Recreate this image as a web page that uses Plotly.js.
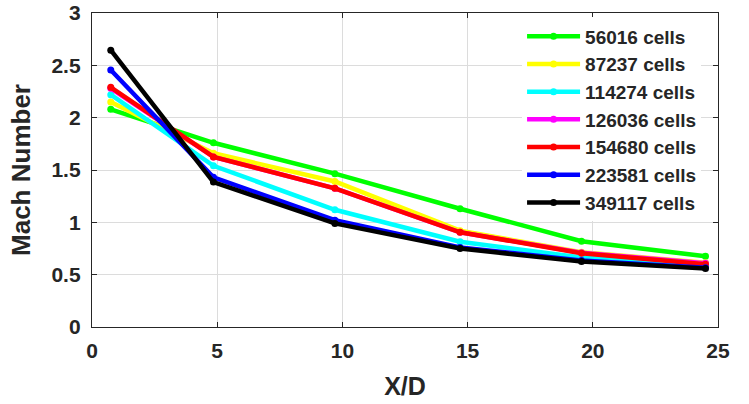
<!DOCTYPE html>
<html>
<head>
<meta charset="utf-8">
<script src="https://cdn.plot.ly/plotly-3.0.1.min.js"></script>
<style>html,body{margin:0;padding:0;background:#fff;}#chart{width:749px;height:404px;}</style>
</head>
<body>
<div id="chart"></div>
<script>
const xd = [0.75, 4.85, 9.7, 14.7, 19.55, 24.5];
const seriesNames = ["56016 cells", "87237 cells", "114274 cells", "126036 cells", "154680 cells", "223581 cells", "349117 cells"];
const seriesColors = ["#00ff00", "#ffff00", "#00ffff", "#ff00ff", "#ff0000", "#0000ff", "#000000"];
const mach56016  = [2.08, 1.76, 1.465, 1.13, 0.82, 0.675];
const mach87237  = [2.15, 1.66, 1.39, 0.92, 0.715, 0.615];
const mach114274 = [2.22, 1.54, 1.12, 0.815, 0.665, 0.585];
const mach126036 = [2.28, 1.625, 1.325, 0.905, 0.71, 0.61];
const mach154680 = [2.29, 1.625, 1.325, 0.905, 0.705, 0.6];
const mach223581 = [2.455, 1.43, 1.02, 0.76, 0.635, 0.565];
const mach349117 = [2.645, 1.385, 0.99, 0.75, 0.625, 0.56];
const seriesValues = [mach56016, mach87237, mach114274, mach126036, mach154680, mach223581, mach349117];
const xTicks = [0, 5, 10, 15, 20, 25];
const yTicks = [0, 0.5, 1, 1.5, 2, 2.5, 3];

const traces = seriesValues.map((v, i) => ({
  x: xd, y: v, name: seriesNames[i], type: 'scatter', mode: 'lines+markers',
  line: {color: seriesColors[i], width: 4.5},
  marker: {color: seriesColors[i], size: 7}
}));

const axisCommon = {
  showline: true, linecolor: '#262626', linewidth: 1.2, mirror: 'ticks',
  ticks: 'inside', ticklen: 5, tickcolor: '#262626',
  showgrid: true, gridcolor: '#dcdcdc', gridwidth: 1, zeroline: false,
  tickfont: {family: 'Liberation Sans, Arial, sans-serif', size: 21, color: '#262626', weight: 'bold'}
};

const layout = {
  width: 749, height: 404,
  margin: {l: 92, r: 31, t: 13, b: 77},
  paper_bgcolor: '#fff', plot_bgcolor: '#fff',
  font: {family: 'Liberation Sans, Arial, sans-serif', color: '#262626'},
  xaxis: Object.assign({}, axisCommon, {
    range: [0, 25], tickvals: xTicks, ticktext: xTicks.map(String), ticklabelstandoff: 5,
    title: {text: '<b>X/D</b>', font: {size: 25, color: '#262626'}, standoff: 16}
  }),
  yaxis: Object.assign({}, axisCommon, {
    range: [0, 3], tickvals: yTicks, ticktext: yTicks.map(String), ticklabelstandoff: 6,
    title: {text: '<b>Mach Number</b>', font: {size: 26, color: '#262626'}, standoff: 13}
  }),
  showlegend: true,
  legend: {
    x: 0.687, y: 0.986, xanchor: 'left', yanchor: 'top', itemwidth: 53,
    bgcolor: '#ffffff', borderwidth: 0,
    font: {size: 19, color: '#262626', weight: 'bold'}
  }
};

Plotly.newPlot('chart', traces, layout, {displayModeBar: false, staticPlot: true});
</script>
</body>
</html>
